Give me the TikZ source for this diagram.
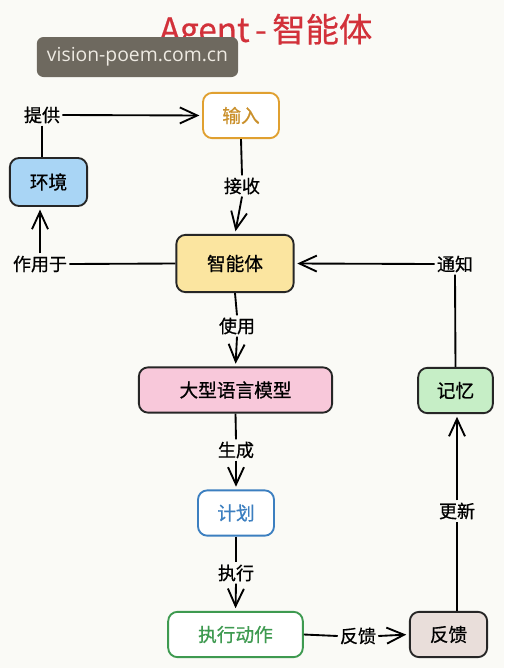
\documentclass[tikz,border=0pt]{standalone}
\usepackage{fontspec}
\newfontfamily\cjk{Noto Sans CJK SC}[FakeBold=0.7]
\newfontfamily\cjktitle{Noto Sans CJK SC}[FakeBold=0.5]
\newfontfamily\wmfont{Open Sans}
\usetikzlibrary{arrows.meta, positioning}

\definecolor{bgcol}{HTML}{FAFAF6}
\definecolor{titlered}{HTML}{D2313A}
\definecolor{wmgray}{HTML}{6E695F}
\definecolor{wmtext}{HTML}{EEEAE2}
\definecolor{inorange}{HTML}{E0A030}
\definecolor{envblue}{HTML}{A9D5F5}
\definecolor{agentyellow}{HTML}{FBE5A0}
\definecolor{llmpink}{HTML}{F8C8DA}
\definecolor{planblue}{HTML}{3C7FC0}
\definecolor{actgreen}{HTML}{3E9A50}
\definecolor{memgreen}{HTML}{C6EEC6}
\definecolor{fbgray}{HTML}{E9DEDA}

\begin{document}
\begin{tikzpicture}[x=0.75pt, y=-0.75pt,
    box/.style={draw=black!85, line width=1.4pt, rounded corners=7pt, minimum height=34pt, inner sep=2pt, font=\cjk\fontsize{14}{16}\selectfont},
    lbl/.style={font=\cjk\fontsize{13.5}{15}\selectfont, inner sep=1.5pt},
    link/.style={line width=1.4pt},
    flow/.style={link, -{Straight Barb[length=13pt, width=12pt]}, shorten >=2pt},
    ]

    % background and page size
    \path[fill=bgcol, use as bounding box] (0,0) rectangle (504,668);

    % title and watermark
    \node[font=\cjktitle\fontsize{25}{28}\selectfont, text=titlered] (title) at (266,32) {Agent\,-\,智能体};
    \node[fill=wmgray, rounded corners=5pt, text=wmtext, minimum width=151pt, minimum height=30pt,
          font=\wmfont\fontsize{14.5}{16}\selectfont] (mark) at (137.5,57) {vision-poem.com.cn};

    % boxes
    \node[box, fill=white, draw=inorange, text=inorange!90!black, minimum width=57pt] (input) at (241,115.5) {输入};
    \node[box, fill=envblue, minimum width=58pt, minimum height=36pt] (env) at (48.5,182) {环境};
    \node[box, fill=agentyellow, minimum width=88pt, minimum height=43pt] (agent) at (235,263.5) {智能体};
    \node[box, fill=llmpink, minimum width=145pt] (llm) at (235.5,390) {大型语言模型};
    \node[box, fill=white, draw=planblue, text=planblue, minimum width=57pt] (plan) at (236,513) {计划};
    \node[box, fill=white, draw=actgreen, text=actgreen, minimum width=101pt] (act) at (235.5,634.5) {执行动作};
    \node[box, fill=fbgray, minimum width=58pt] (fb) at (448.5,634.5) {反馈};
    \node[box, fill=memgreen, minimum width=56pt] (mem) at (455.5,390.5) {记忆};

    % edge labels
    \node[lbl] (provide) at (42,115) {提供};
    \node[lbl] (receive) at (242,186) {接收};
    \node[lbl] (actson) at (40,264) {作用于};
    \node[lbl] (notify) at (455,264) {通知};
    \node[lbl] (use) at (237,326) {使用};
    \node[lbl] (gen) at (236,450) {生成};
    \node[lbl] (exec) at (236,573) {执行};
    \node[lbl] (fblbl) at (358,636) {反馈};
    \node[lbl] (update) at (457,511) {更新};

    % connectors
    \draw[link] (provide.south) -- (provide.south |- env.north);
    \draw[flow] (provide.east) -- (input.west);
    \draw[link] (input.south) -- (receive.north);
    \draw[flow] (receive.south) -- (agent.north);
    \draw[link] (agent.west) -- (actson.east);
    \draw[flow] (actson.north) -- (actson.north |- env.south);
    \draw[link] (mem.north) -- (notify.south);
    \draw[flow] (notify.west) -- (agent.east);
    \draw[link] (agent.south) -- (use.north);
    \draw[flow] (use.south) -- (llm.north);
    \draw[link] (llm.south) -- (gen.north);
    \draw[flow] (gen.south) -- (plan.north);
    \draw[link] (plan.south) -- (exec.north);
    \draw[flow] (exec.south) -- (act.north);
    \draw[link] (act.east) -- (fblbl.west);
    \draw[flow] (fblbl.east) -- (fb.west);
    \draw[link] (update.south |- fb.north) -- (update.south);
    \draw[flow] (update.north) -- (update.north |- mem.south);
\end{tikzpicture}
\end{document}
